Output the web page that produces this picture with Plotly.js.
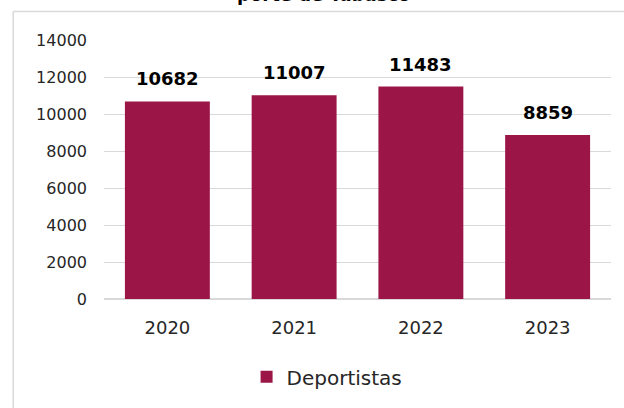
<!DOCTYPE html>
<html>
<head>
<meta charset="utf-8">
<script src="https://cdn.plot.ly/plotly-3.0.1.min.js"></script>
<style>html,body{margin:0;padding:0;background:#fff;}#chart{width:624px;height:408px;}</style>
</head>
<body>
<div id="chart"></div>
<script>
var years = ['2020', '2021', '2022', '2023'];
var deportistas = [10682, 11007, 11483, 8859];
var seriesName = 'Deportistas';
var titleText = 'porte de Tabasco';
var yTicks = [0, 2000, 4000, 6000, 8000, 10000, 12000, 14000];

var FONT = '"DejaVu Sans", "Noto Sans", sans-serif';
var barColor = '#9B1646';

var trace = {
  type: 'bar',
  x: years,
  y: deportistas,
  name: seriesName,
  marker: {color: barColor},
  hoverinfo: 'x+y'
};

var annotations = years.map(function (yr, i) {
  return {
    x: i, y: deportistas[i], xref: 'x', yref: 'y',
    text: '<b>' + deportistas[i] + '</b>',
    showarrow: false, yanchor: 'bottom', yshift: 10,
    font: {family: FONT, size: 18, color: '#000000'}
  };
});
annotations.push({
  xref: 'paper', yref: 'paper', x: 0.432, y: 1.127, yanchor: 'bottom', xanchor: 'center',
  text: '<b>' + titleText + '</b>', showarrow: false,
  font: {family: FONT, size: 18, color: '#000000'}
});

var layout = {
  width: 624, height: 408,
  margin: {l: 104, r: 13, t: 40, b: 106, pad: 0},
  paper_bgcolor: '#ffffff', plot_bgcolor: '#ffffff',
  font: {family: FONT, color: '#262626'},
  showlegend: true,
  legend: {
    orientation: 'h', x: 0.44, xanchor: 'center', y: -0.3, yanchor: 'middle',
    itemwidth: 30,
    font: {family: FONT, size: 20, color: '#262626'}
  },
  xaxis: {
    type: 'category', range: [-0.5, 3.5], autorange: false,
    showgrid: false, showline: false, ticks: '', zeroline: false,
    tickfont: {family: FONT, size: 18, color: '#262626'},
    ticklabelstandoff: 16, fixedrange: true
  },
  yaxis: {
    range: [0, 14000], autorange: false, tickvals: yTicks, tickformat: 'd',
    showgrid: true, gridcolor: '#d9d9d9', gridwidth: 1,
    zeroline: true, zerolinecolor: '#d9d9d9', zerolinewidth: 1.5,
    showline: false, ticks: '',
    tickfont: {family: FONT, size: 16, color: '#262626'},
    ticklabelstandoff: 16, fixedrange: true
  },
  bargap: 0.33,
  annotations: annotations,
  shapes: [
    {type: 'line', xref: 'paper', yref: 'paper', x0: -0.179, x1: -0.179, y0: 1.11, y1: -0.5,
     line: {color: '#d9d9d9', width: 1.5}},
    {type: 'line', xref: 'paper', yref: 'paper', x0: -0.179, x1: 1.1, y0: 1.11, y1: 1.11,
     line: {color: '#d9d9d9', width: 1.5}}
  ]
};

Plotly.newPlot('chart', [trace], layout, {displayModeBar: false, staticPlot: true});
</script>
</body>
</html>
